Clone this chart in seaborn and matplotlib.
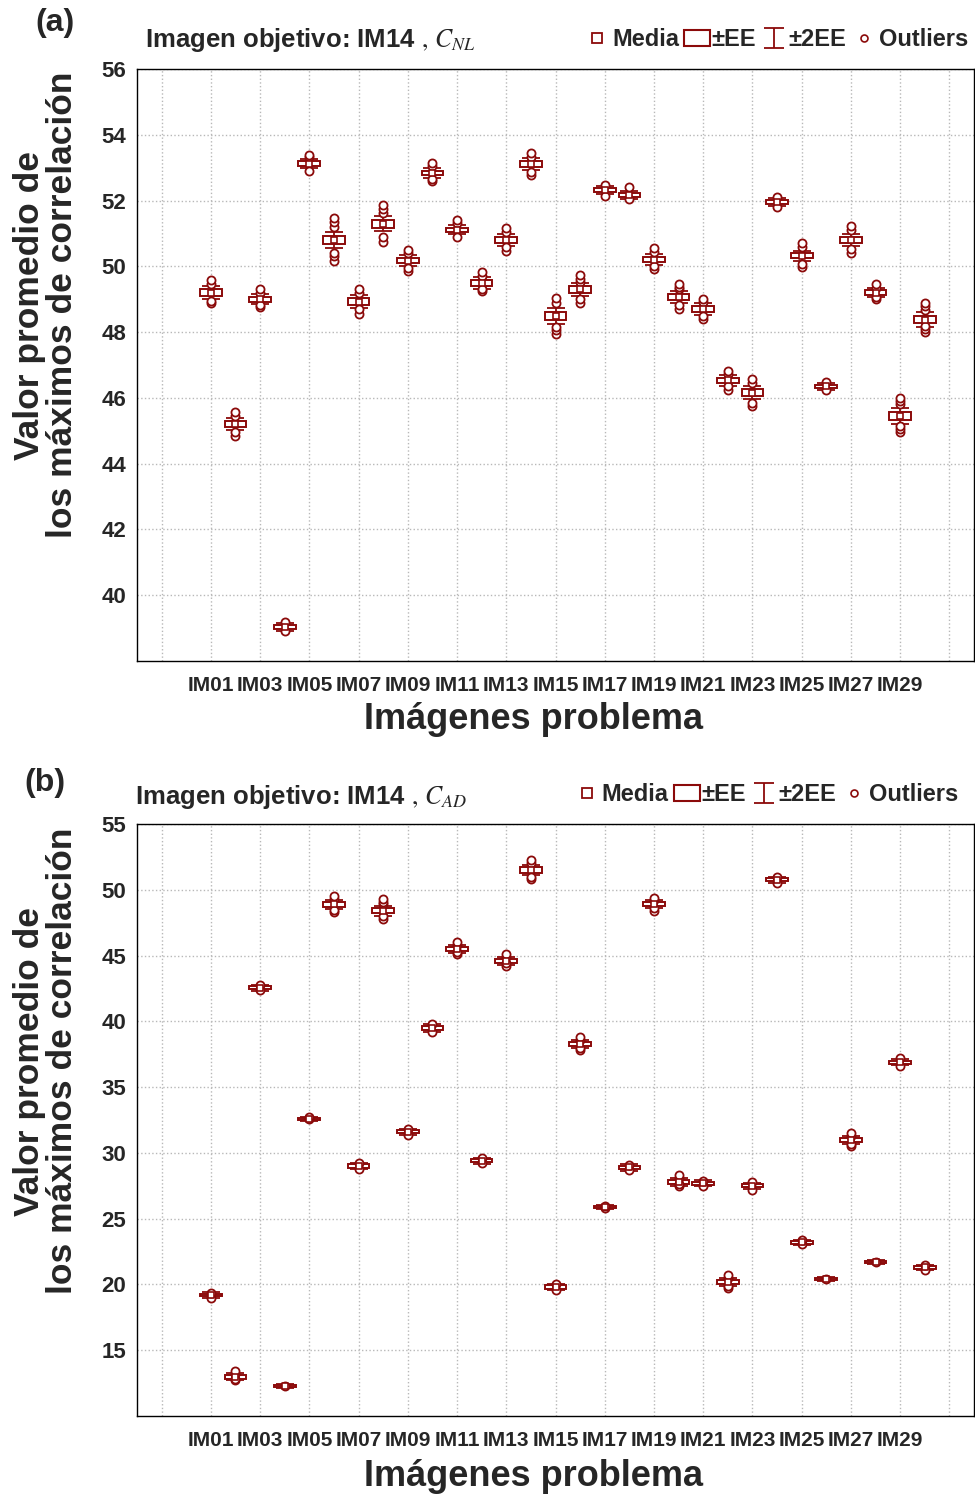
import numpy as np
import pandas as pd
import matplotlib
matplotlib.use("Agg")
import matplotlib.pyplot as plt
import seaborn as sns
from matplotlib.lines import Line2D
from matplotlib.patches import Rectangle
from matplotlib.path import Path

# ---------------- data ----------------
images = [f"IM{i:02d}" for i in range(1, 31)]
tick_labels = [""] + [f"IM{i:02d}" for i in range(1, 30, 2)] + [""]

means_a = [49.20, 45.20, 49.00, 39.03, 53.12, 50.80, 48.93, 51.30, 50.17, 52.84,
           51.11, 49.50, 50.80, 53.12, 48.50, 49.30, 52.33, 52.17, 50.20, 49.08,
           48.71, 46.53, 46.16, 51.96, 50.32, 46.35, 50.80, 49.20, 45.44, 48.38]
se_a = [0.10, 0.09, 0.08, 0.06, 0.07, 0.12, 0.10, 0.12, 0.08, 0.07,
        0.07, 0.09, 0.09, 0.09, 0.12, 0.10, 0.06, 0.06, 0.08, 0.09,
        0.09, 0.08, 0.10, 0.06, 0.08, 0.05, 0.09, 0.07, 0.12, 0.11]
outliers_a = [
    [48.87, 48.95, 49.45, 49.58], [44.85, 44.95, 45.45, 45.56], [48.75, 48.82, 49.20, 49.32],
    [38.90, 39.20], [52.90, 53.32, 53.38], [50.15, 50.30, 50.42, 51.20, 51.34, 51.48],
    [48.55, 48.70, 49.18, 49.30], [50.75, 50.90, 51.62, 51.74, 51.86], [49.85, 49.95, 50.40, 50.50],
    [52.58, 52.65, 53.05, 53.15], [50.90, 51.32, 51.40], [49.25, 49.32, 49.70, 49.82],
    [50.48, 50.58, 51.05, 51.18], [52.78, 52.88, 53.32, 53.46], [47.95, 48.05, 48.15, 48.90, 49.05],
    [48.90, 49.00, 49.52, 49.63, 49.74], [52.15, 52.48], [52.05, 52.40],
    [49.92, 50.00, 50.45, 50.56], [48.70, 48.82, 49.30, 49.38, 49.45], [48.40, 48.50, 48.92, 49.02],
    [46.25, 46.35, 46.72, 46.82], [45.75, 45.85, 46.45, 46.56], [51.80, 52.12],
    [49.97, 50.06, 50.58, 50.70], [46.25, 46.48], [50.40, 50.52, 51.10, 51.22],
    [49.00, 49.06, 49.35, 49.45], [44.95, 45.05, 45.15, 45.80, 45.90, 46.00], [48.00, 48.10, 48.20, 48.68, 48.80, 48.90],
]

means_b = [19.2, 13.0, 42.55, 12.3, 32.6, 48.9, 29.0, 48.4, 31.6, 39.5,
           45.5, 29.4, 44.6, 51.5, 19.8, 38.3, 25.9, 28.9, 48.9, 27.8,
           27.7, 20.2, 27.5, 50.75, 23.2, 20.4, 31.0, 21.7, 36.9, 21.3]
se_b = [0.10, 0.15, 0.12, 0.08, 0.08, 0.18, 0.12, 0.20, 0.12, 0.14,
        0.15, 0.12, 0.15, 0.20, 0.12, 0.15, 0.08, 0.12, 0.16, 0.15,
        0.12, 0.15, 0.12, 0.12, 0.10, 0.08, 0.15, 0.08, 0.12, 0.10]
outliers_b = [
    [19.0, 19.35], [12.7, 12.85, 13.2, 13.4], [42.35, 42.75], [12.3], [32.55, 32.7],
    [48.3, 48.5, 49.3, 49.5], [28.8, 29.2], [47.8, 48.0, 48.9, 49.1, 49.3], [31.35, 31.85], [39.2, 39.8],
    [45.1, 45.3, 45.8, 46.0], [29.2, 29.6], [44.2, 44.4, 44.9, 45.1], [50.8, 51.0, 52.0, 52.3], [19.6, 20.0],
    [37.8, 38.0, 38.6, 38.8], [25.8, 26.0], [28.7, 29.1], [48.4, 48.6, 49.2, 49.4], [27.5, 27.6, 28.1, 28.3],
    [27.5, 27.9], [19.7, 19.9, 20.5, 20.7], [27.2, 27.8], [50.5, 51.0], [23.1, 23.35],
    [20.4], [30.5, 30.7, 31.3, 31.5], [21.7], [36.6, 37.2], [21.1, 21.5],
]

# ---------------- style ----------------
sns.set_style("white")
NARROW = ["Liberation Sans Narrow", "Liberation Sans", "DejaVu Sans"]
SANS = ["Liberation Sans", "DejaVu Sans"]
plt.rcParams["font.family"] = NARROW
plt.rcParams["mathtext.fontset"] = "stix"
RED = "#8b0a0a"
GRID = "#b8b8b8"

fig = plt.figure(figsize=(9.75, 14.96), dpi=100)
W, H = 975, 1496


def ax_rect(left, top, right, bottom):
    return [left / W, 1 - bottom / H, (right - left) / W, (bottom - top) / H]


def draw_panel(ax, means, se, outliers, ylim, yticks, legend_right):
    pos = np.arange(1, len(images) + 1)
    df = pd.DataFrame({"pos": pos, "image": images, "mean": means, "se": se})
    df["lo"] = df["mean"] - df["se"]
    out_df = pd.DataFrame([(p, v) for p, vals in zip(pos, outliers) for v in vals],
                          columns=["pos", "value"])

    ax.errorbar(df["pos"], df["mean"], yerr=2 * df["se"], fmt="none", ecolor=RED,
                elinewidth=1.3, capsize=6.5, capthick=1.3, zorder=2)
    ax.bar(df["pos"], 2 * df["se"], bottom=df["lo"], width=0.88, color="white",
           edgecolor=RED, linewidth=1.4, zorder=3)
    sns.scatterplot(data=out_df, x="pos", y="value", marker="o", s=34, color="white",
                    edgecolor=RED, linewidth=1.3, ax=ax, zorder=4)
    sns.scatterplot(data=df, x="pos", y="mean", marker="s", s=20, color="white",
                    edgecolor=RED, linewidth=1.2, ax=ax, zorder=5)

    ax.set_xlim(-2, 32)
    ax.set_ylim(*ylim)
    ax.set_xticks(np.arange(-1, 32, 2))
    ax.set_xticklabels(tick_labels)
    ax.set_yticks(yticks)
    ax.set_yticklabels([str(t) for t in yticks])
    ax.set_xlabel("")
    ax.set_ylabel("")
    ax.grid(True, linestyle=":", color=GRID, linewidth=1.0)
    ax.set_axisbelow(True)
    for s in ax.spines.values():
        s.set_color("black")
        s.set_linewidth(1.0)
        s.set_visible(True)
    ax.tick_params(axis="x", direction="in", length=4, width=1, pad=11, labelsize=15)
    ax.tick_params(axis="y", direction="in", length=4, width=1, pad=8, labelsize=16)
    for lab in ax.get_xticklabels() + ax.get_yticklabels():
        lab.set_fontweight("bold")

    # legend
    ibeam = Path([(-1, 1), (1, 1), (0, 1), (0, -1), (-1, -1), (1, -1)],
                 [Path.MOVETO, Path.LINETO, Path.MOVETO, Path.LINETO, Path.MOVETO, Path.LINETO])
    handles = [
        Line2D([0], [0], marker="s", ls="none", mfc="white", mec=RED, ms=7, mew=1.3),
        Rectangle((0, 0), 1, 1, fc="white", ec=RED, lw=1.5),
        Line2D([0], [0], marker=ibeam, ls="none", mfc="none", mec=RED, ms=14, mew=1.3),
        Line2D([0], [0], marker="o", ls="none", mfc="white", mec=RED, ms=5, mew=1.2),
    ]
    labels = ["Media", "±EE", "±2EE", "Outliers"]
    ax.legend(handles, labels, loc="center right", bbox_to_anchor=(legend_right, 1.049),
              ncol=4, frameon=False, handlelength=1.1, handletextpad=0.08,
              columnspacing=0.2, borderaxespad=0.0, borderpad=0.0,
              prop={"family": NARROW, "weight": "bold", "size": 17})
    return ax


ax_a = fig.add_axes(ax_rect(137, 69, 974, 661))
draw_panel(ax_a, means_a, se_a, outliers_a, (38, 56), list(range(40, 57, 2)), 0.993)
ax_b = fig.add_axes(ax_rect(137, 824, 974, 1416))
draw_panel(ax_b, means_b, se_b, outliers_b, (10, 55), list(range(15, 56, 5)), 0.981)

# titles
fig.text(145 / W, 1 - 40 / H, "Imagen objetivo: IM14 $,\\,\\mathit{C}_{\\mathit{NL}}$", ha="left", va="center",
         fontsize=18.5, fontweight="bold", family=NARROW)
fig.text(135 / W, 1 - 797 / H, "Imagen objetivo: IM14 $,\\,\\mathit{C}_{\\mathit{AD}}$", ha="left", va="center",
         fontsize=18.5, fontweight="bold", family=NARROW)

# panel letters
fig.text(55 / W, 1 - 23 / H, "(a)", ha="center", va="center", fontsize=23, fontweight="bold", family=SANS)
fig.text(45 / W, 1 - 783 / H, "(b)", ha="center", va="center", fontsize=23, fontweight="bold", family=SANS)

# y labels
ylab = "Valor promedio de\nlos máximos de correlación"
fig.text(46 / W, 1 - 305 / H, ylab, rotation=90, ha="center", va="center", multialignment="center",
         fontsize=25.5, fontweight="bold", family=SANS, linespacing=1.0)
fig.text(46 / W, 1 - 1061 / H, ylab, rotation=90, ha="center", va="center", multialignment="center",
         fontsize=25.5, fontweight="bold", family=SANS, linespacing=1.0)

# x labels
fig.text(534 / W, 1 - 720 / H, "Imágenes problema", ha="center", va="center",
         fontsize=26, fontweight="bold", family=SANS)
fig.text(534 / W, 1 - 1476 / H, "Imágenes problema", ha="center", va="center",
         fontsize=26, fontweight="bold", family=SANS)

fig.savefig("out.png", dpi=100)
